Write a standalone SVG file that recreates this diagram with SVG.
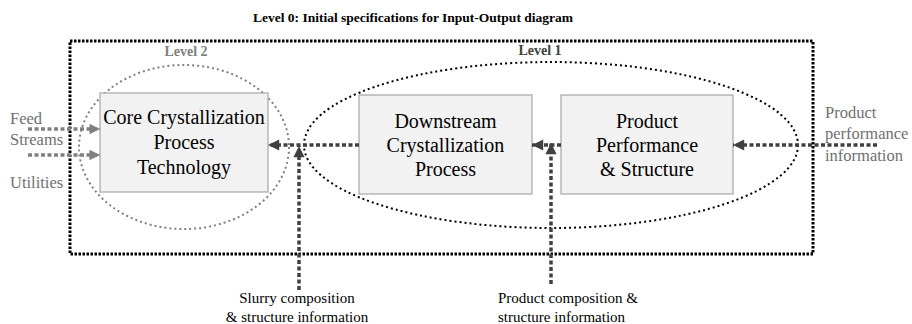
<svg xmlns="http://www.w3.org/2000/svg" width="912" height="324" viewBox="0 0 912 324">
  <defs>
    <marker id="headDark" viewBox="0 0 10 10" refX="10" refY="5" markerWidth="3.6" markerHeight="3.2" markerUnits="strokeWidth" orient="auto">
      <path d="M0,0 L10,5 L0,10 Z" fill="#404040"/>
    </marker>
    <marker id="headGray" viewBox="0 0 10 10" refX="10" refY="5" markerWidth="3.2" markerHeight="3" markerUnits="strokeWidth" orient="auto">
      <path d="M0,0 L10,5 L0,10 Z" fill="#808080"/>
    </marker>
    <style>
      .box { fill: #f2f2f2; stroke: #a6a6a6; stroke-width: 1.2; }
      .frame { fill: none; stroke: #000; stroke-width: 3; stroke-dasharray: 2.5 1.5; }
      .ring1 { fill: none; stroke: #000; stroke-width: 2; stroke-dasharray: 2 3; }
      .ring2 { fill: none; stroke: #808080; stroke-width: 2; stroke-dasharray: 2 3; }
      .flow { fill: none; stroke: #404040; stroke-width: 3.5; stroke-dasharray: 4 2.5; }
      .flowGray { fill: none; stroke: #808080; stroke-width: 3.5; stroke-dasharray: 4 2.5; }
    </style>
  </defs>

  <rect width="912" height="324" fill="#fff"/>

  <!-- heading -->
  <text font-family="Liberation Serif, serif" font-size="13.5" font-weight="bold" fill="#000" x="413" y="22" text-anchor="middle">Level 0: Initial specifications for Input-Output diagram</text>

  <!-- level frames -->
  <g id="level0">
    <rect class="frame" x="70" y="41" width="743" height="213"/>
  </g>
  <g id="level2">
    <ellipse class="ring2" cx="184" cy="147" rx="105" ry="82"/>
    <text font-family="Liberation Serif, serif" font-size="14" font-weight="bold" fill="#808080" x="186" y="56" text-anchor="middle">Level 2</text>
  </g>
  <g id="level1">
    <ellipse class="ring1" cx="551" cy="145" rx="247" ry="83"/>
    <text font-family="Liberation Serif, serif" font-size="14" font-weight="bold" fill="#404040" x="540" y="55" text-anchor="middle">Level 1</text>
  </g>

  <!-- process blocks -->
  <g id="core">
    <rect class="box" x="100" y="93" width="168" height="99"/>
    <text font-family="serif" font-size="20" fill="#000" text-anchor="middle" x="184" y="124">Core Crystallization</text>
    <text font-family="serif" font-size="20" fill="#000" text-anchor="middle" x="184" y="149">Process</text>
    <text font-family="serif" font-size="20" fill="#000" text-anchor="middle" x="184" y="174">Technology</text>
  </g>
  <g id="downstream">
    <rect class="box" x="359" y="95" width="173" height="99"/>
    <text font-family="serif" font-size="20" fill="#000" text-anchor="middle" x="445.5" y="128">Downstream</text>
    <text font-family="serif" font-size="20" fill="#000" text-anchor="middle" x="445.5" y="152">Crystallization</text>
    <text font-family="serif" font-size="20" fill="#000" text-anchor="middle" x="445.5" y="176">Process</text>
  </g>
  <g id="product">
    <rect class="box" x="561" y="95" width="172" height="99"/>
    <text font-family="serif" font-size="20" fill="#000" text-anchor="middle" x="647" y="128">Product</text>
    <text font-family="serif" font-size="20" fill="#000" text-anchor="middle" x="647" y="152">Performance</text>
    <text font-family="serif" font-size="20" fill="#000" text-anchor="middle" x="647" y="176">&amp; Structure</text>
  </g>

  <!-- inputs and information labels -->
  <g id="inputs">
    <text font-family="serif" font-size="16.5" fill="#707070" x="10" y="124">Feed</text>
    <text font-family="serif" font-size="16.5" fill="#707070" x="10" y="145">Streams</text>
    <text font-family="serif" font-size="16.5" fill="#707070" x="10" y="188">Utilities</text>
  </g>
  <g id="perfInfo">
    <text font-family="serif" font-size="16.5" fill="#707070" x="825" y="118">Product</text>
    <text font-family="serif" font-size="16.5" fill="#707070" x="825" y="139">performance</text>
    <text font-family="serif" font-size="16.5" fill="#707070" x="825" y="161">information</text>
  </g>
  <g id="slurryInfo">
    <text font-family="serif" font-size="15" fill="#000" text-anchor="middle" x="297" y="303">Slurry composition</text>
    <text font-family="serif" font-size="15" fill="#000" text-anchor="middle" x="297" y="322">&amp; structure information</text>
  </g>
  <g id="productInfo">
    <text font-family="serif" font-size="15" fill="#000" x="498" y="303">Product composition &amp;</text>
    <text font-family="serif" font-size="15" fill="#000" x="498" y="322">structure information</text>
  </g>

  <!-- connectors -->
  <g id="connectors">
    <line class="flowGray" x1="28" y1="129" x2="100" y2="129" marker-end="url(#headGray)"/>
    <line class="flowGray" x1="28" y1="155" x2="100" y2="155" marker-end="url(#headGray)"/>
    <line class="flow" x1="359" y1="145" x2="268" y2="145" marker-end="url(#headDark)"/>
    <line class="flow" x1="299" y1="290" x2="299" y2="146" marker-end="url(#headDark)"/>
    <line class="flow" x1="561" y1="145" x2="532" y2="145" marker-end="url(#headDark)"/>
    <line class="flow" x1="551" y1="284" x2="551" y2="143" marker-end="url(#headDark)"/>
    <line class="flow" x1="877" y1="145" x2="733" y2="145" marker-end="url(#headDark)"/>
  </g>
</svg>
